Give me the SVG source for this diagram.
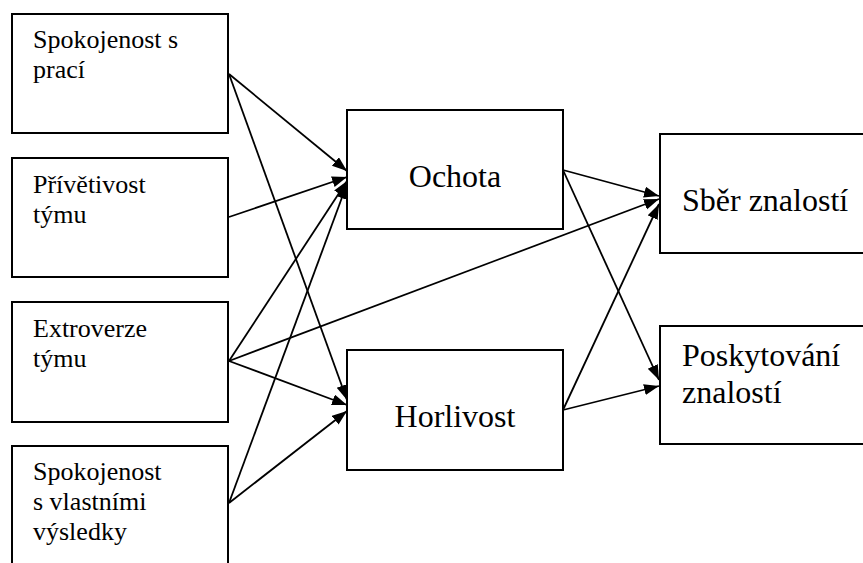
<svg xmlns="http://www.w3.org/2000/svg" width="863" height="563" viewBox="0 0 863 563">
  <style>
    .box { fill: #fff; stroke: #000; stroke-width: 2; }
    .small { font-size: 26px; }
    .big { font-size: 32px; }
    .edge { stroke: #000; stroke-width: 1.8; fill: none; marker-end: url(#head); }
  </style>
  <defs>
    <marker id="head" markerUnits="userSpaceOnUse" markerWidth="16" markerHeight="12" refX="15" refY="5.5" orient="auto">
      <path d="M0,0 L15,5.5 L0,11 Z" fill="#000"/>
    </marker>
  </defs>
  <rect width="863" height="563" fill="#fff"/>

  <g font-family="Liberation Serif, Times New Roman, serif" fill="#000">
  <!-- input factors -->
  <g id="spokojenost-praci">
    <rect class="box" x="12" y="14" width="216" height="119"/>
    <text class="small" x="33" y="48">Spokojenost s</text>
    <text class="small" x="33" y="78">prací</text>
  </g>
  <g id="privetivost">
    <rect class="box" x="12" y="158" width="216" height="119"/>
    <text class="small" x="33" y="193">Přívětivost</text>
    <text class="small" x="33" y="223">týmu</text>
  </g>
  <g id="extroverze">
    <rect class="box" x="12" y="302" width="216" height="120"/>
    <text class="small" x="33" y="337">Extroverze</text>
    <text class="small" x="33" y="367">týmu</text>
  </g>
  <g id="spokojenost-vysledky">
    <rect class="box" x="12" y="446" width="216" height="130"/>
    <text class="small" x="33" y="480">Spokojenost</text>
    <text class="small" x="33" y="510">s vlastními</text>
    <text class="small" x="33" y="540">výsledky</text>
  </g>

  <!-- mediators -->
  <g id="ochota">
    <rect class="box" x="347" y="110" width="216" height="119"/>
    <text class="big" x="455" y="187" text-anchor="middle">Ochota</text>
  </g>
  <g id="horlivost">
    <rect class="box" x="347" y="350" width="216" height="120"/>
    <text class="big" x="455" y="427" text-anchor="middle">Horlivost</text>
  </g>

  <!-- outcomes -->
  <g id="sber">
    <rect class="box" x="660" y="134" width="215" height="119"/>
    <text class="big" x="682" y="211">Sběr znalostí</text>
  </g>
  <g id="poskytovani">
    <rect class="box" x="660" y="326" width="215" height="118"/>
    <text class="big" x="682" y="366">Poskytování</text>
    <text class="big" x="682" y="403">znalostí</text>
  </g>
  </g>

  <!-- connectors -->
  <g id="connectors">
    <line class="edge" x1="229" y1="74" x2="347" y2="171"/>
    <line class="edge" x1="229" y1="74" x2="347" y2="400"/>
    <line class="edge" x1="229" y1="217" x2="347" y2="177"/>
    <line class="edge" x1="229" y1="361" x2="347" y2="181"/>
    <line class="edge" x1="229" y1="361" x2="347" y2="405"/>
    <line class="edge" x1="229" y1="361" x2="659" y2="199"/>
    <line class="edge" x1="229" y1="503" x2="347" y2="184"/>
    <line class="edge" x1="229" y1="503" x2="347" y2="411"/>
    <line class="edge" x1="563" y1="170" x2="659" y2="196"/>
    <line class="edge" x1="563" y1="170" x2="659" y2="380"/>
    <line class="edge" x1="563" y1="410" x2="659" y2="204"/>
    <line class="edge" x1="563" y1="410" x2="659" y2="386"/>
  </g>
</svg>
